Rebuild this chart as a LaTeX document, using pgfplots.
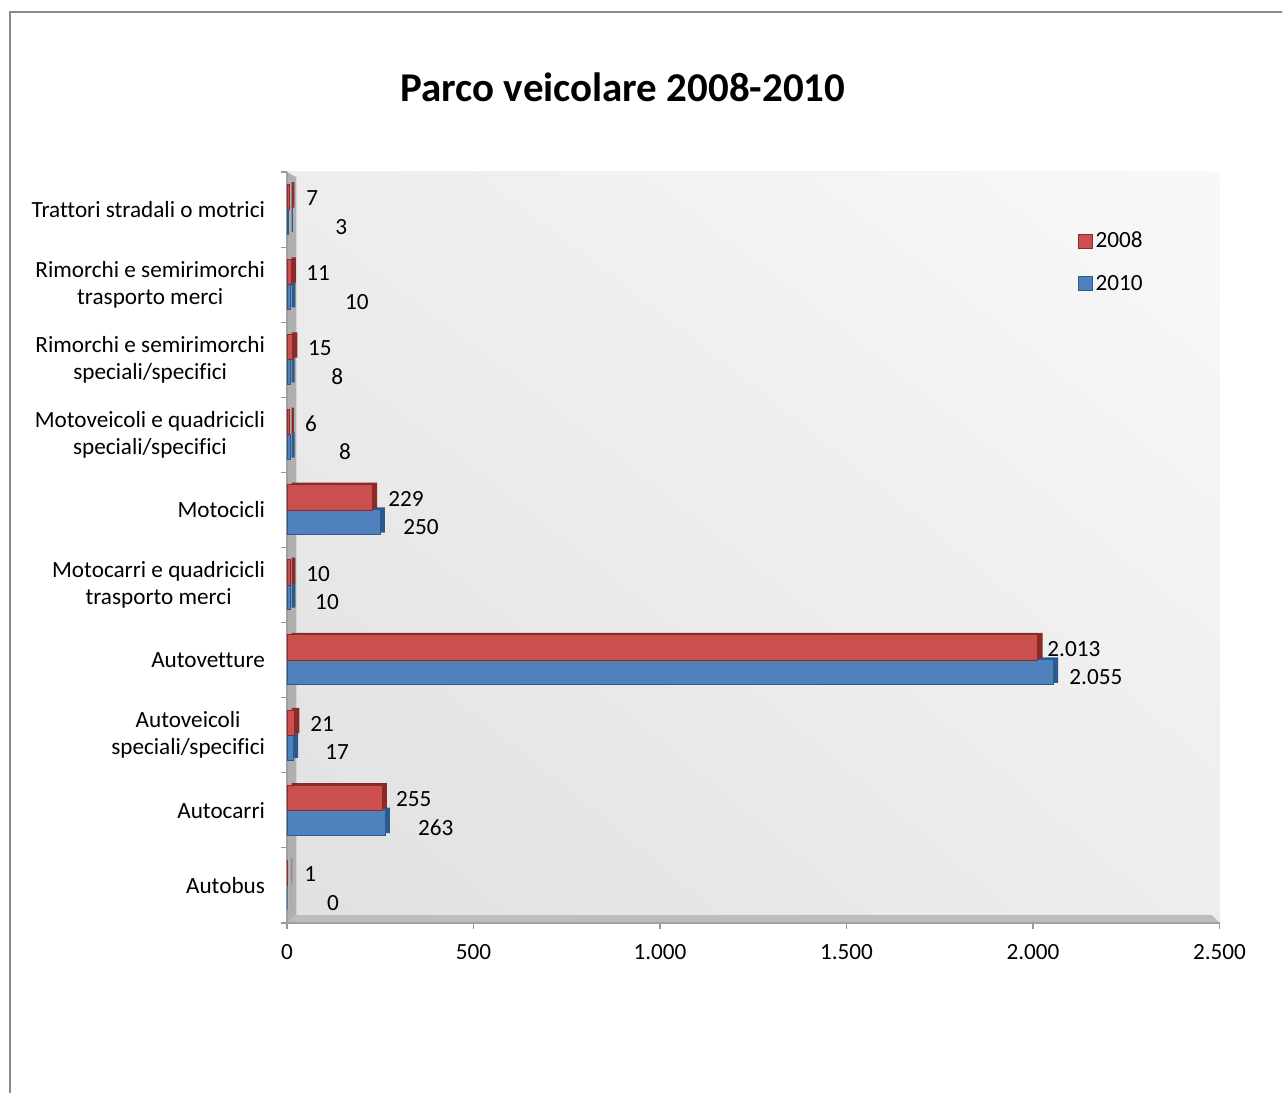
\documentclass[border=0pt]{standalone}
\usepackage{pgfplots}
\pgfplotsset{compat=1.18}
\usetikzlibrary{shadings}
\usepackage{fontspec}
\setmainfont{Carlito}[Ligatures=NoCommon]

\definecolor{redfront}{HTML}{C9504E}
\definecolor{redside}{HTML}{8C2A28}
\definecolor{bluefront}{HTML}{4F81BD}
\definecolor{blueside}{HTML}{2B5A8F}
\definecolor{frame}{HTML}{8A8A8A}

\begin{document}
\begin{tikzpicture}
% page: 1282 x 1093 px at 0.75pt per px
\path[use as bounding box] (0,0) rectangle (961.5pt,819.75pt);
\draw[frame, line width=1.5pt] (961.5pt,810.75pt) -- (7.5pt,810.75pt) -- (7.5pt,0pt);
\node[font=\fontsize{30.7}{36}\selectfont\bfseries] at (467.25pt,754.5pt) {Parco veicolare 2008-2010};

\begin{axis}[
    at={(215.25pt,127.5pt)}, anchor=south west,
    scale only axis,
    width=699.4pt, height=563.25pt,
    clip=false,
    xmin=0, xmax=2500,
    ymin=-0.5, ymax=9.5,
    axis line style={draw=none},
    axis background/.style={shade, shading=bilinear interpolation,
        lower left=gray!24, lower right=gray!14,
        upper left=gray!14, upper right=gray!5},
    xtick={0,500,...,2500},
    scaled x ticks=false,
    /pgf/number format/assume math mode=true,
    /pgf/number format/1000 sep={.},
    ytick={0,...,9},
    yticklabels={Autobus, Autocarri, {Autoveicoli\\speciali/specifici}, Autovetture,
        {Motocarri e quadricicli\\trasporto merci}, Motocicli,
        {Motoveicoli e quadricicli\\speciali/specifici},
        {Rimorchi e semirimorchi\\speciali/specifici},
        {Rimorchi e semirimorchi\\trasporto merci}, Trattori stradali o motrici},
    yticklabel style={align=center, font=\fontsize{17.4}{20.3}\selectfont, xshift=-8.5pt},
    xticklabel style={font=\fontsize{17.4}{20}\selectfont, yshift=-8pt},
    ytick style={draw=none},
    extra y ticks={-0.5,0.5,...,9.5},
    extra y tick labels={},
    extra y tick style={ytick style={draw=gray!80, line width=0.8pt}, major tick length=4.5pt},
    xtick style={draw=gray!80, line width=0.8pt},
    major tick length=4.5pt,
    tick align=outside,
    xtick pos=bottom, ytick pos=left,
    reverse legend,
    legend style={at={(axis description cs:0.848,0.924)}, anchor=north west,
        draw=none, fill=none, font=\fontsize{17.4}{20}\selectfont,
        row sep=15pt, inner sep=0pt},
    legend cell align=left,
    legend image code/.code={\draw[#1] (0pt,-5.25pt) rectangle (10.5pt,5.25pt);},
]
% 3D walls
\fill[gray!62] (rel axis cs:0,0) -- (rel axis cs:0,1) -- ([shift={(7pt,-4pt)}]rel axis cs:0,1)
    -- ([shift={(7pt,6pt)}]rel axis cs:0,0) -- cycle;
\fill[gray!52] (rel axis cs:0,0) -- (rel axis cs:1,0) -- ([shift={(-6pt,6pt)}]rel axis cs:1,0)
    -- ([shift={(7pt,6pt)}]rel axis cs:0,0) -- cycle;
\draw[gray!75, line width=1.2pt] (rel axis cs:0,1) -- (rel axis cs:0,0) -- (rel axis cs:1,0);

% 2010
\addplot[xbar, bar width=19pt, bar shift=-9pt, fill=blueside, draw=none,
    xshift=3.5pt, yshift=1.5pt, forget plot]
    coordinates {(0,0) (263,1) (17,2) (2055,3) (10,4) (250,5) (8,6) (8,7) (10,8) (3,9)};
\addplot[xbar, bar width=19pt, bar shift=-9pt, fill=bluefront, draw=blueside, line width=0.6pt]
    coordinates {(0,0) (263,1) (17,2) (2055,3) (10,4) (250,5) (8,6) (8,7) (10,8) (3,9)};
\addlegendentry{2010}
% 2008
\addplot[xbar, bar width=19pt, bar shift=9.5pt, fill=redside, draw=none,
    xshift=3.5pt, yshift=1.5pt, forget plot]
    coordinates {(1,0) (255,1) (21,2) (2013,3) (10,4) (229,5) (6,6) (15,7) (11,8) (7,9)};
\addplot[xbar, bar width=19pt, bar shift=9.5pt, fill=redfront, draw=redside, line width=0.6pt]
    coordinates {(1,0) (255,1) (21,2) (2013,3) (10,4) (229,5) (6,6) (15,7) (11,8) (7,9)};
\addlegendentry{2008}

% value labels, placed as in the reference
\addplot[draw=none, mark=none, forget plot, point meta=explicit symbolic,
    nodes near coords, nodes near coords style={anchor=west, inner sep=0pt,
    font=\fontsize{17.4}{20}\selectfont, text=black}]
    table[meta=lab] {
x y lab
46 0.15 1
292 1.15 255
62 2.15 21
2038 3.15 2.013
51 4.15 10
271 5.15 229
48 6.15 6
56 7.15 15
51 8.15 11
51 9.15 7
107 -0.23 0
351 0.77 263
102 1.77 17
2097 2.77 2.055
75 3.77 10
311 4.77 250
139 5.77 8
118 6.77 8
155 7.77 10
129 8.77 3
};
\end{axis}
\end{tikzpicture}
\end{document}
